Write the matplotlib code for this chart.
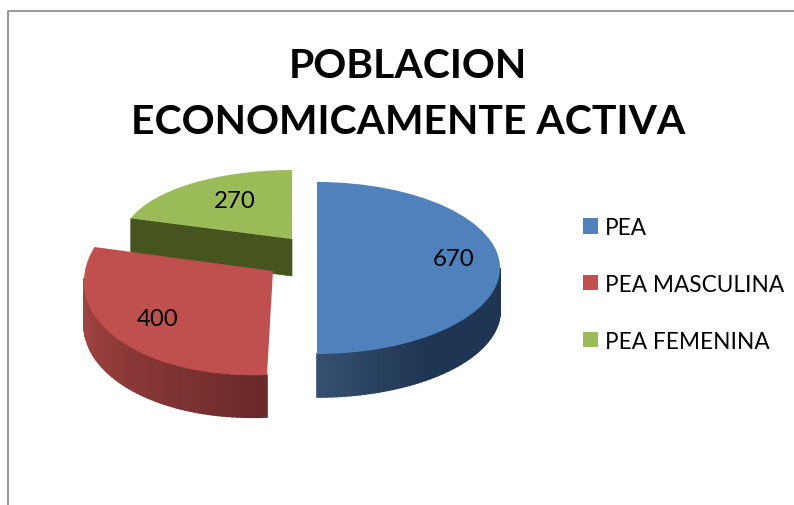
import matplotlib
matplotlib.use("Agg")
import matplotlib.pyplot as plt
from matplotlib.transforms import Affine2D
import numpy as np

categories = ["PEA", "PEA MASCULINA", "PEA FEMENINA"]
values = [670, 400, 270]
title = "POBLACION\nECONOMICAMENTE ACTIVA"

colors = ["#4f81bd", "#c0504d", "#9bbb59"]

# each slice has its own ellipse because of the perspective (pixels)
centers = [(317, 269), (273, 272), (292, 240)]
radii = [(183, 86), (189, 104), (169, 69)]
shears = [0.0, 0.058, 0.0]
tilts = [0.0, 0.04, 0.0]
depths = [43, 42, 37]
label_pos = [(454, 259), (158, 319), (235, 201)]
# side colours, left to right
side_colors = [("#35506f", "#1e3553"), ("#a84644", "#6a2a2a"), ("#46541f", "#46541f")]

plt.rcParams["font.family"] = ["Lato", "DejaVu Sans"]

fig = plt.figure(figsize=(7.94, 5.06), dpi=100)
ax = fig.add_axes([0, 0, 1, 1])

wedges, _ = ax.pie(values, colors=colors, startangle=90, counterclock=False)
ax.set_aspect("auto")
ax.set_xlim(0, 794)
ax.set_ylim(506, 0)
ax.axis("off")


def to_pixels(x, y, i):
    cx, cy = centers[i]
    rx, ry = radii[i]
    return cx + rx * x + shears[i] * ry * y, cy - ry * y - tilts[i] * rx * x


def mix(c1, c2, t):
    a = np.array(matplotlib.colors.to_rgb(c1))
    b = np.array(matplotlib.colors.to_rgb(c2))
    return tuple(a + (b - a) * t)


for i, w in enumerate(wedges):
    rx, ry = radii[i]
    m = Affine2D.from_values(rx, -tilts[i] * rx, shears[i] * ry, -ry, centers[i][0], centers[i][1])
    w.set_transform(m + ax.transData)
    w.set_zorder(3)
    w.set_linewidth(0)

    # side of the slice
    d = depths[i]
    if i == 2:
        t = np.radians(w.theta2)
        x0, y0 = to_pixels(np.cos(t), np.sin(t), i)
        x1, y1 = to_pixels(0, 0, i)
        ax.fill([x0, x1, x1, x0], [y0, y1, y1 + d, y0 + d], color=side_colors[i][0], lw=0.5, zorder=2)
        continue
    # only the part of the arc that faces the viewer
    lo = max(w.theta1, -180)
    hi = min(w.theta2, 0)
    th = np.linspace(lo, hi, 60)
    for k in range(len(th) - 1):
        a, b = np.radians(th[k]), np.radians(th[k + 1])
        x0, y0 = to_pixels(np.cos(a), np.sin(a), i)
        x1, y1 = to_pixels(np.cos(b), np.sin(b), i)
        frac = k / (len(th) - 2)
        if i == 1:
            c = mix(side_colors[i][0], side_colors[i][1], frac)
        else:
            c = mix(side_colors[i][0], side_colors[i][1], min(frac * 2.5, 1))
        ax.fill([x0, x1, x1, x0], [y0, y1, y1 + d, y0 + d], color=c, lw=1.2, zorder=2)

for v, p in zip(values, label_pos):
    ax.text(p[0], p[1], str(v), fontsize=17.3, ha="center", va="center", color="black", zorder=5)

ax.text(408, 94.5, title, fontsize=29.4, fontweight="bold", ha="center", va="center",
        linespacing=1.65, color="black")

leg = ax.legend(wedges, categories, loc="upper left", bbox_to_anchor=(583 / 794, 1 - 218 / 506),
                frameon=False, fontsize=16.3, handlelength=0.66, handleheight=0.66,
                handletextpad=0.31, labelspacing=1.58, borderpad=0, borderaxespad=0)

# chart border
ax.plot([7.5, 7.5, 794], [506, 12, 12], color="#868686", lw=1.2, zorder=1)

fig.savefig("out.png", dpi=100)
